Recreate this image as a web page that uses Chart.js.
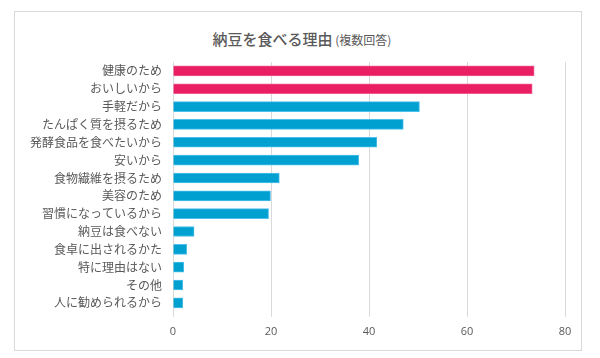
<!DOCTYPE html>
<html><head><meta charset="utf-8">
<script src="https://cdn.jsdelivr.net/npm/chart.js@4"></script>
<style>
html,body{margin:0;padding:0;background:#fff;}
#wrap{position:relative;width:600px;height:358px;overflow:hidden;}
#frame{position:absolute;left:14px;top:11px;width:566px;height:338px;border:1px solid #d9d9d9;}
#title{position:absolute;left:0;width:604px;top:30px;text-align:center;color:#595959;font-family:"Noto Sans CJK JP",sans-serif;font-size:15px;font-weight:500;line-height:18px;}
#title small{font-size:12px;font-weight:400;}
canvas{position:absolute;left:0;top:0;}
</style></head>
<body><div id="wrap"><div id="frame"></div><div id="title">納豆を食べる理由<small> (複数回答)</small></div><canvas id="c" width="600" height="358"></canvas></div>
<script>
const categories = ["健康のため","おいしいから","手軽だから","たんぱく質を摂るため","発酵食品を食べたいから","安いから","食物繊維を摂るため","美容のため","習慣になっているから","納豆は食べない","食卓に出されるかた","特に理由はない","その他","人に勧められるから"];
const values = [73.7,73.3,50.3,47.0,41.6,37.9,21.7,19.9,19.5,4.3,2.8,2.2,2.0,2.0];
const highlightCount = 2;
const xTicks = [0,20,40,60,80];

const colors = values.map((v,i)=> i<highlightCount ? '#E91E63' : '#00A0D1');
const borders = values.map((v,i)=> i<highlightCount ? '#EE5A8A' : '#4CC0EA');

new Chart(document.getElementById('c'), {
  type: 'bar',
  data: { labels: categories, datasets: [{ data: values, backgroundColor: colors, borderColor: borders, borderWidth: 1, barThickness: 10 }] },
  options: {
    indexAxis: 'y', responsive: false, animation: false,
    layout: { padding: { top: 62, bottom: 12, left: 0, right: 35 } },
    plugins: { legend: { display: false }, tooltip: { enabled: false } },
    scales: {
      x: {
        min: 0, max: 80,
        afterBuildTicks: s => { s.ticks = xTicks.map(v => ({ value: v })); },
        grid: { color: '#d9d9d9', tickLength: 5, drawTicks: true },
        border: { display: false },
        ticks: { color: '#595959', padding: 8, font: { family: '"Open Sans", "Noto Sans", sans-serif', size: 11 } }
      },
      y: {
        afterFit: s => { s.width = 173; },
        grid: { display: false },
        border: { display: false },
        ticks: { color: '#595959', padding: 3, autoSkip: false, font: { family: '"Noto Sans CJK JP", sans-serif', size: 12 } }
      }
    }
  }
});
</script></body></html>
